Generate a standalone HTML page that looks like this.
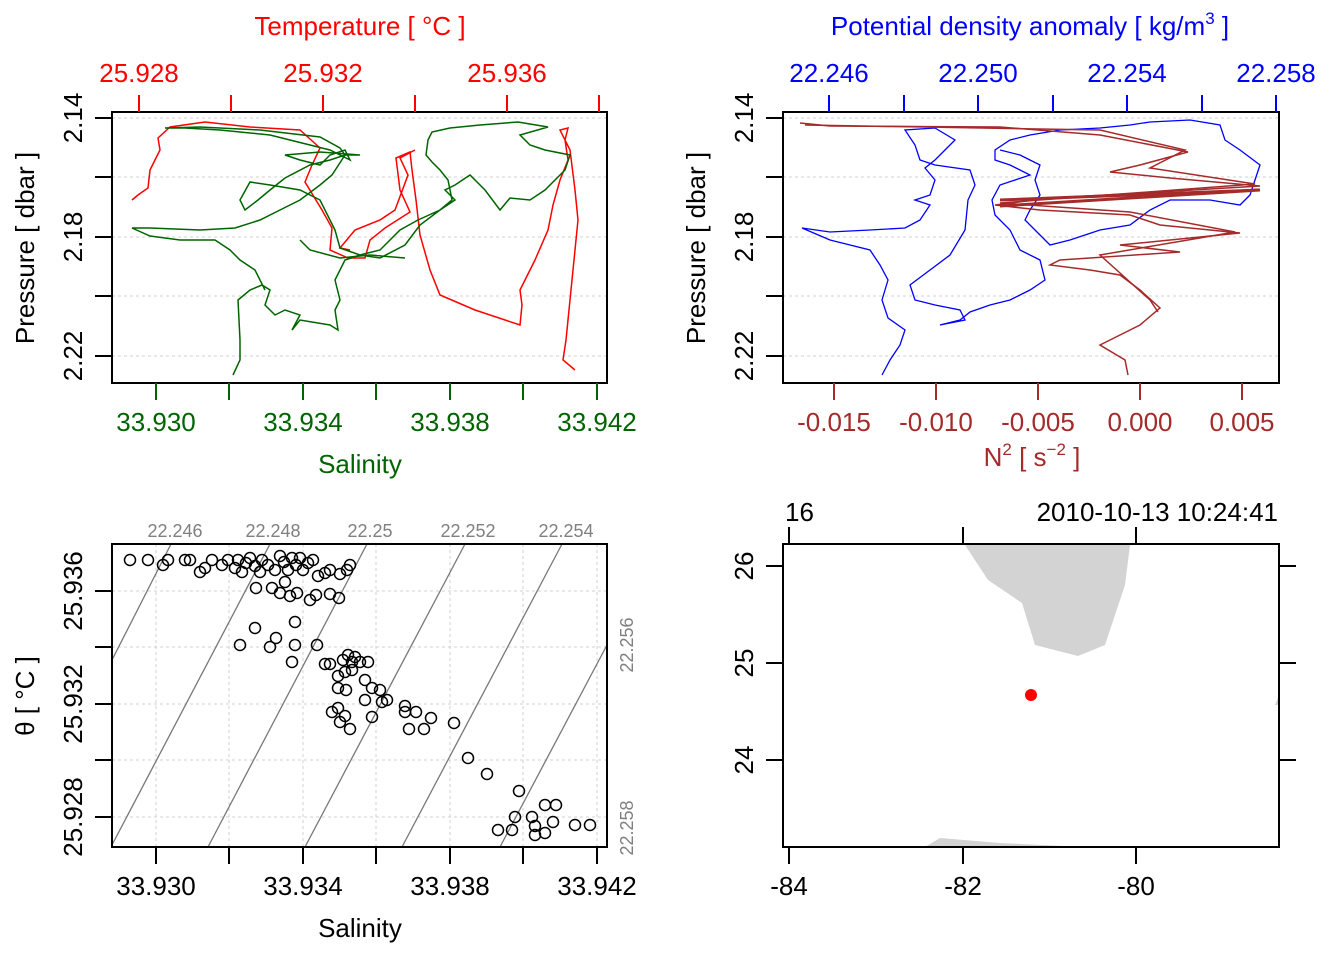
<!DOCTYPE html>
<html><head><meta charset="utf-8"><style>
body{margin:0;background:#fff}
svg{display:block}
text{font-family:"Liberation Sans",Arial,sans-serif}
</style></head><body>
<svg width="1344" height="960" viewBox="0 0 1344 960" xmlns="http://www.w3.org/2000/svg">
<rect width="1344" height="960" fill="#fff"/>

<!-- ===== Panel 1 ===== -->
<g stroke="#d0d0d0" stroke-dasharray="3,3" stroke-width="1">
<line x1="112" y1="118" x2="607" y2="118"/><line x1="112" y1="177" x2="607" y2="177"/>
<line x1="112" y1="237" x2="607" y2="237"/><line x1="112" y1="296" x2="607" y2="296"/>
<line x1="112" y1="356" x2="607" y2="356"/>
</g>
<rect x="112" y="112" width="495" height="271" fill="none" stroke="#000" stroke-width="2"/>
<g stroke="red" stroke-width="2">
<line x1="139" y1="95" x2="139" y2="112"/><line x1="231" y1="95" x2="231" y2="112"/><line x1="323" y1="95" x2="323" y2="112"/><line x1="415" y1="95" x2="415" y2="112"/><line x1="507" y1="95" x2="507" y2="112"/><line x1="599" y1="95" x2="599" y2="112"/>
</g>
<g fill="red" font-size="26" text-anchor="middle">
<text x="139" y="82">25.928</text><text x="323" y="82">25.932</text><text x="507" y="82">25.936</text>
<text x="360" y="35">Temperature [ °C ]</text>
</g>
<g stroke="#006400" stroke-width="2">
<line x1="156" y1="383" x2="156" y2="400"/><line x1="229" y1="383" x2="229" y2="400"/><line x1="303" y1="383" x2="303" y2="400"/><line x1="376" y1="383" x2="376" y2="400"/><line x1="450" y1="383" x2="450" y2="400"/><line x1="523" y1="383" x2="523" y2="400"/><line x1="597" y1="383" x2="597" y2="400"/>
</g>
<g fill="#006400" font-size="26" text-anchor="middle">
<text x="156" y="431">33.930</text><text x="303" y="431">33.934</text><text x="450" y="431">33.938</text><text x="597" y="431">33.942</text>
<text x="360" y="473">Salinity</text>
</g>
<g stroke="#000" stroke-width="2">
<line x1="95" y1="118" x2="112" y2="118"/><line x1="95" y1="177" x2="112" y2="177"/><line x1="95" y1="237" x2="112" y2="237"/><line x1="95" y1="296" x2="112" y2="296"/><line x1="95" y1="356" x2="112" y2="356"/>
</g>
<g font-size="26" text-anchor="middle">
<text transform="translate(82,118) rotate(-90)">2.14</text>
<text transform="translate(82,237) rotate(-90)">2.18</text>
<text transform="translate(82,356) rotate(-90)">2.22</text>
<text transform="translate(34,248) rotate(-90)">Pressure [ dbar ]</text>
</g>
<g fill="none" stroke="red" stroke-width="1.5">
<polyline points="132,200 138,195 148,188 150,170 160,150 158,138 170,127 205,122 250,127 300,130 320,148 312,165 305,182 322,210 332,228 330,250 348,258 365,258 370,240 385,228 410,212 400,190 396,158 410,152 412,170 416,200 420,235 430,270 440,295 475,310 520,325 522,305 520,290 535,260 548,230 553,205 560,180 568,160 565,140 568,128 560,130 570,150 575,190 578,220 574,260 570,300 566,340 563,360 575,370"/>
<polyline points="415,150 400,158 408,175 395,210 380,220 355,230 340,248 350,250"/>
</g>
<g fill="none" stroke="#006400" stroke-width="1.5">
<polyline points="233,375 240,360 240,340 238,300 250,290 262,285 270,290 265,305 275,315 285,310 300,315 292,330 300,320 330,325 338,330 335,310 340,300 335,280 340,270 345,260 360,255 380,250 400,230 418,220 440,210 452,200 448,180 440,170 432,162 426,155 428,140 432,132 450,128 480,125 518,122 548,127 520,135 530,145 545,150 570,155 565,170 545,190 530,200 510,198 500,210 485,190 470,175 455,185 445,190 455,200 440,210 420,225 405,245 380,258 360,255 340,248 335,230 330,220 320,200 300,190 270,185 250,182 240,200 245,210 258,200 270,190 285,178 310,165 330,160 345,155 360,155 320,152 285,155 300,160 320,165 330,155 345,150 350,160 330,150 270,135 220,130 185,128 165,128 200,127 260,130 320,137 340,148 345,155 332,175 320,185 300,200 280,210 260,220 235,228 200,230 150,228 132,228 150,236 180,240 215,240 230,250 240,260 255,270 265,290"/>
<polyline points="300,240 310,250 340,258 370,255 405,258"/>
</g>

<!-- ===== Panel 2 ===== -->
<g stroke="#d0d0d0" stroke-dasharray="3,3" stroke-width="1">
<line x1="783" y1="118" x2="1279" y2="118"/><line x1="783" y1="177" x2="1279" y2="177"/>
<line x1="783" y1="237" x2="1279" y2="237"/><line x1="783" y1="296" x2="1279" y2="296"/>
<line x1="783" y1="356" x2="1279" y2="356"/>
</g>
<rect x="783" y="112" width="496" height="271" fill="none" stroke="#000" stroke-width="2"/>
<g stroke="blue" stroke-width="2">
<line x1="829" y1="95" x2="829" y2="112"/><line x1="904" y1="95" x2="904" y2="112"/><line x1="978" y1="95" x2="978" y2="112"/><line x1="1053" y1="95" x2="1053" y2="112"/><line x1="1127" y1="95" x2="1127" y2="112"/><line x1="1202" y1="95" x2="1202" y2="112"/><line x1="1276" y1="95" x2="1276" y2="112"/>
</g>
<g fill="blue" font-size="26" text-anchor="middle">
<text x="829" y="82">22.246</text><text x="978" y="82">22.250</text><text x="1127" y="82">22.254</text><text x="1276" y="82">22.258</text>
<text x="1030" y="35">Potential density anomaly [ kg/m<tspan font-size="17" dy="-11">3</tspan><tspan dy="11"> ]</tspan></text>
</g>
<g stroke="brown" stroke-width="2">
<line x1="834" y1="383" x2="834" y2="400"/><line x1="936" y1="383" x2="936" y2="400"/><line x1="1038" y1="383" x2="1038" y2="400"/><line x1="1140" y1="383" x2="1140" y2="400"/><line x1="1242" y1="383" x2="1242" y2="400"/>
</g>
<g fill="brown" font-size="26" text-anchor="middle">
<text x="834" y="431">-0.015</text><text x="936" y="431">-0.010</text><text x="1038" y="431">-0.005</text><text x="1140" y="431">0.000</text><text x="1242" y="431">0.005</text>
<text x="1032" y="466">N<tspan font-size="17" dy="-11">2</tspan><tspan dy="11"> [ s</tspan><tspan font-size="17" dy="-11">−2</tspan><tspan dy="11"> ]</tspan></text>
</g>
<g stroke="#000" stroke-width="2">
<line x1="766" y1="118" x2="783" y2="118"/><line x1="766" y1="177" x2="783" y2="177"/><line x1="766" y1="237" x2="783" y2="237"/><line x1="766" y1="296" x2="783" y2="296"/><line x1="766" y1="356" x2="783" y2="356"/>
</g>
<g font-size="26" text-anchor="middle">
<text transform="translate(753,118) rotate(-90)">2.14</text>
<text transform="translate(753,237) rotate(-90)">2.18</text>
<text transform="translate(753,356) rotate(-90)">2.22</text>
<text transform="translate(705,248) rotate(-90)">Pressure [ dbar ]</text>
</g>
<g fill="none" stroke="blue" stroke-width="1.3">
<polyline points="882,375 890,360 900,345 905,330 888,318 882,300 888,280 880,265 870,250 830,240 802,228 830,232 870,230 905,228 920,220 930,205 915,200 930,195 935,180 925,168 935,160 945,150 955,140 935,128 905,130 915,145 920,160 935,165 970,170 975,185 968,200 965,230 950,255 930,270 910,285 915,300 935,305 960,310 965,320 940,325 960,320 970,312 990,305 1010,300 1030,290 1045,280 1040,260 1020,250 1015,240 1010,230 995,215 992,200 1000,185 1015,180 1030,175 1010,165 995,160 995,150 1010,140 1030,135 1060,130 1100,128 1130,125 1150,122 1190,120 1220,125 1225,140 1240,150 1260,165 1255,180 1250,195 1240,205 1210,200 1170,200 1150,210 1130,225 1100,230 1070,240 1050,245 1040,235 1025,220 1030,210 1040,195 1035,180 1040,165 1020,155 1000,150"/>
</g>
<g fill="none" stroke="brown" stroke-width="1.5">
<polyline points="800,123 830,126 1000,127 1100,135 1188,152 1140,165 1110,172 1170,178 1260,186 1160,192 1050,198 995,205 1040,210 1130,215 1160,225 1240,233 1190,238 1120,245 1180,252 1060,260 1050,265 1090,270 1120,275 1140,290 1160,308 1140,325 1100,345 1125,360 1128,375"/>
<polyline points="805,125 1100,130 1185,150 1150,168 1255,184 1000,203 1130,212 1235,232 1100,255 1150,300 1158,312"/>
<polyline points="1000,200 1260,190 1000,206" stroke-width="3"/>
</g>

<!-- ===== Panel 3 ===== -->
<g stroke="#d0d0d0" stroke-dasharray="3,3" stroke-width="1">
<line x1="112" y1="591" x2="607" y2="591"/><line x1="112" y1="647" x2="607" y2="647"/><line x1="112" y1="704" x2="607" y2="704"/><line x1="112" y1="760" x2="607" y2="760"/><line x1="112" y1="817" x2="607" y2="817"/>
<line x1="156" y1="544" x2="156" y2="847"/><line x1="229" y1="544" x2="229" y2="847"/><line x1="303" y1="544" x2="303" y2="847"/><line x1="376" y1="544" x2="376" y2="847"/><line x1="450" y1="544" x2="450" y2="847"/><line x1="523" y1="544" x2="523" y2="847"/><line x1="597" y1="544" x2="597" y2="847"/>
</g>
<g stroke="#777" stroke-width="1.3">
<line x1="112" y1="660" x2="171" y2="544"/>
<line x1="112" y1="845" x2="270" y2="544"/>
<line x1="208" y1="847" x2="367" y2="544"/>
<line x1="305" y1="847" x2="465" y2="544"/>
<line x1="402" y1="847" x2="562" y2="544"/>
<line x1="500" y1="847" x2="607" y2="645"/>
</g>
<g fill="#808080" font-size="18" text-anchor="middle">
<text x="175" y="537">22.246</text><text x="273" y="537">22.248</text><text x="370" y="537">22.25</text><text x="468" y="537">22.252</text><text x="566" y="537">22.254</text>
<text transform="translate(633,645) rotate(-90)">22.256</text>
<text transform="translate(633,828) rotate(-90)">22.258</text>
</g>
<rect x="112" y="544" width="495" height="303" fill="none" stroke="#000" stroke-width="2"/>
<g stroke="#000" stroke-width="2">
<line x1="156" y1="847" x2="156" y2="864"/><line x1="229" y1="847" x2="229" y2="864"/><line x1="303" y1="847" x2="303" y2="864"/><line x1="376" y1="847" x2="376" y2="864"/><line x1="450" y1="847" x2="450" y2="864"/><line x1="523" y1="847" x2="523" y2="864"/><line x1="597" y1="847" x2="597" y2="864"/>
<line x1="95" y1="591" x2="112" y2="591"/><line x1="95" y1="647" x2="112" y2="647"/><line x1="95" y1="704" x2="112" y2="704"/><line x1="95" y1="760" x2="112" y2="760"/><line x1="95" y1="817" x2="112" y2="817"/>
</g>
<g font-size="26" text-anchor="middle">
<text x="156" y="895">33.930</text><text x="303" y="895">33.934</text><text x="450" y="895">33.938</text><text x="597" y="895">33.942</text>
<text x="360" y="937">Salinity</text>
<text transform="translate(82,591) rotate(-90)">25.936</text>
<text transform="translate(82,704) rotate(-90)">25.932</text>
<text transform="translate(82,817) rotate(-90)">25.928</text>
<text transform="translate(34,696) rotate(-90)">θ [ °C ]</text>
</g>
<g fill="none" stroke="#000" stroke-width="1.5">
<circle cx="130" cy="560" r="5.5"/><circle cx="148" cy="560" r="5.5"/><circle cx="163" cy="565" r="5.5"/><circle cx="168" cy="560" r="5.5"/><circle cx="185" cy="560" r="5.5"/><circle cx="190" cy="560" r="5.5"/><circle cx="200" cy="572" r="5.5"/><circle cx="205" cy="568" r="5.5"/><circle cx="212" cy="560" r="5.5"/><circle cx="222" cy="565" r="5.5"/>
<circle cx="228" cy="560" r="5.5"/><circle cx="235" cy="568" r="5.5"/><circle cx="238" cy="560" r="5.5"/><circle cx="242" cy="572" r="5.5"/><circle cx="246" cy="563" r="5.5"/><circle cx="250" cy="558" r="5.5"/><circle cx="255" cy="566" r="5.5"/><circle cx="260" cy="572" r="5.5"/><circle cx="262" cy="560" r="5.5"/><circle cx="268" cy="565" r="5.5"/>
<circle cx="275" cy="570" r="5.5"/><circle cx="280" cy="556" r="5.5"/><circle cx="284" cy="562" r="5.5"/><circle cx="288" cy="570" r="5.5"/><circle cx="292" cy="558" r="5.5"/><circle cx="296" cy="565" r="5.5"/><circle cx="300" cy="558" r="5.5"/><circle cx="303" cy="570" r="5.5"/><circle cx="308" cy="563" r="5.5"/><circle cx="313" cy="560" r="5.5"/>
<circle cx="318" cy="576" r="5.5"/><circle cx="325" cy="573" r="5.5"/><circle cx="330" cy="570" r="5.5"/><circle cx="340" cy="574" r="5.5"/><circle cx="347" cy="570" r="5.5"/><circle cx="350" cy="565" r="5.5"/><circle cx="256" cy="588" r="5.5"/><circle cx="272" cy="588" r="5.5"/><circle cx="280" cy="593" r="5.5"/><circle cx="285" cy="582" r="5.5"/>
<circle cx="290" cy="596" r="5.5"/><circle cx="297" cy="593" r="5.5"/><circle cx="310" cy="600" r="5.5"/><circle cx="316" cy="595" r="5.5"/><circle cx="330" cy="594" r="5.5"/><circle cx="339" cy="598" r="5.5"/><circle cx="295" cy="622" r="5.5"/><circle cx="255" cy="628" r="5.5"/><circle cx="240" cy="645" r="5.5"/><circle cx="270" cy="647" r="5.5"/>
<circle cx="276" cy="638" r="5.5"/><circle cx="295" cy="645" r="5.5"/><circle cx="317" cy="645" r="5.5"/><circle cx="292" cy="662" r="5.5"/><circle cx="325" cy="664" r="5.5"/><circle cx="330" cy="664" r="5.5"/><circle cx="343" cy="660" r="5.5"/><circle cx="348" cy="655" r="5.5"/><circle cx="352" cy="662" r="5.5"/><circle cx="355" cy="657" r="5.5"/>
<circle cx="360" cy="662" r="5.5"/><circle cx="368" cy="662" r="5.5"/><circle cx="338" cy="676" r="5.5"/><circle cx="345" cy="672" r="5.5"/><circle cx="352" cy="670" r="5.5"/><circle cx="338" cy="688" r="5.5"/><circle cx="346" cy="690" r="5.5"/><circle cx="365" cy="680" r="5.5"/><circle cx="372" cy="688" r="5.5"/><circle cx="380" cy="690" r="5.5"/>
<circle cx="365" cy="700" r="5.5"/><circle cx="382" cy="702" r="5.5"/><circle cx="387" cy="700" r="5.5"/><circle cx="332" cy="712" r="5.5"/><circle cx="338" cy="708" r="5.5"/><circle cx="345" cy="716" r="5.5"/><circle cx="340" cy="722" r="5.5"/><circle cx="350" cy="729" r="5.5"/><circle cx="372" cy="717" r="5.5"/><circle cx="405" cy="706" r="5.5"/>
<circle cx="405" cy="712" r="5.5"/><circle cx="416" cy="712" r="5.5"/><circle cx="431" cy="718" r="5.5"/><circle cx="409" cy="729" r="5.5"/><circle cx="424" cy="729" r="5.5"/><circle cx="454" cy="723" r="5.5"/><circle cx="468" cy="758" r="5.5"/><circle cx="487" cy="774" r="5.5"/><circle cx="519" cy="791" r="5.5"/><circle cx="545" cy="805" r="5.5"/>
<circle cx="556" cy="805" r="5.5"/><circle cx="515" cy="817" r="5.5"/><circle cx="532" cy="817" r="5.5"/><circle cx="498" cy="830" r="5.5"/><circle cx="512" cy="830" r="5.5"/><circle cx="535" cy="826" r="5.5"/><circle cx="553" cy="822" r="5.5"/><circle cx="535" cy="835" r="5.5"/><circle cx="545" cy="833" r="5.5"/><circle cx="575" cy="825" r="5.5"/><circle cx="590" cy="825" r="5.5"/>
</g>

<!-- ===== Panel 4 ===== -->
<polygon points="965,545 1130,545 1125,585 1105,645 1078,656 1035,645 1022,603 988,580" fill="#d3d3d3"/>
<polygon points="925,847 940,838 1000,843 1085,847" fill="#d3d3d3"/>
<polygon points="1279,695 1275,705 1279,705" fill="#d3d3d3"/>
<rect x="783" y="544" width="496" height="303" fill="none" stroke="#000" stroke-width="2"/>
<circle cx="1031" cy="695" r="6" fill="red"/>
<g stroke="#000" stroke-width="2">
<line x1="789" y1="847" x2="789" y2="864"/><line x1="963" y1="847" x2="963" y2="864"/><line x1="1136" y1="847" x2="1136" y2="864"/>
<line x1="789" y1="527" x2="789" y2="544"/><line x1="963" y1="527" x2="963" y2="544"/><line x1="1136" y1="527" x2="1136" y2="544"/>
<line x1="766" y1="566" x2="783" y2="566"/><line x1="766" y1="663" x2="783" y2="663"/><line x1="766" y1="760" x2="783" y2="760"/>
<line x1="1279" y1="566" x2="1296" y2="566"/><line x1="1279" y1="663" x2="1296" y2="663"/><line x1="1279" y1="760" x2="1296" y2="760"/>
</g>
<g font-size="26" text-anchor="middle">
<text x="789" y="895">-84</text><text x="963" y="895">-82</text><text x="1136" y="895">-80</text>
<text transform="translate(753,566) rotate(-90)">26</text>
<text transform="translate(753,663) rotate(-90)">25</text>
<text transform="translate(753,760) rotate(-90)">24</text>
<text x="785" y="521" text-anchor="start">16</text>
<text x="1278" y="521" text-anchor="end">2010-10-13 10:24:41</text>
</g>
</svg>
</body></html>
